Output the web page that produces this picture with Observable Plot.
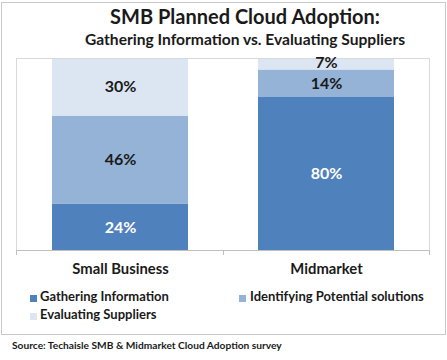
<!DOCTYPE html>
<html>
<head>
<meta charset="utf-8">
<script src="https://cdn.jsdelivr.net/npm/d3@7"></script>
<script src="https://cdn.jsdelivr.net/npm/@observablehq/plot@0.6"></script>
<style>
  html, body { margin: 0; padding: 0; background: #fff; }
  #wrap { position: relative; width: 447px; height: 360px; overflow: hidden; background: #fff; font-family: Lato, "Open Sans", sans-serif; }
  #wrap .t { position: absolute; white-space: nowrap; font-weight: bold; line-height: 1.2; color: #1a1a1a; }
  #border { position: absolute; left: 1px; top: 2px; width: 443px; height: 331px; border: 1px solid #c9c9c9; }
  #chart { position: absolute; left: 0; top: 0; }
  .sw { position: absolute; width: 7px; height: 7px; }
</style>
</head>
<body>
<div id="wrap">
  <div id="border"></div>
  <div id="chart"></div>
</div>
<script>
// ---- data ----
const categories = ["Small Business", "Midmarket"];
const series = ["Gathering Information", "Identifying Potential solutions", "Evaluating Suppliers"];
const gathering = [24, 80];
const identifying = [46, 14];
const evaluating = [30, 7];
const titleText = "SMB Planned Cloud Adoption:";
const subtitleText = "Gathering Information vs. Evaluating Suppliers";
const sourceText = "Source: Techaisle SMB & Midmarket Cloud Adoption survey";

// ---- styling ----
const colors = ["#4f81bd", "#95b3d7", "#dce6f2"];
const colorOf = Object.fromEntries(series.map((s, i) => [s, colors[i]]));

const seriesValues = [gathering, identifying, evaluating];
const rows = [];
categories.forEach((c, ci) => {
  series.forEach((s, si) => rows.push({category: c, series: s, value: seriesValues[si][ci]}));
});

function boundaryTicks(index, scales, values, dims) {
  const g = d3.create("svg:g").attr("stroke", "#bfbfbf");
  const left = dims.marginLeft, right = dims.width - dims.marginRight;
  const y0 = dims.height - dims.marginBottom;
  const step = (right - left) / categories.length;
  for (let i = 0; i <= categories.length; i++) {
    const x = Math.round(left + i * step) + 0.5;
    g.append("line").attr("x1", x).attr("x2", x).attr("y1", y0).attr("y2", y0 + 5);
  }
  return g.node();
}

const chart = Plot.plot({
  width: 447,
  height: 280,
  marginLeft: 16,
  marginRight: 18,
  marginTop: 58,
  marginBottom: 30,
  style: {fontFamily: "Lato, 'Open Sans', sans-serif", background: "transparent", overflow: "visible"},
  x: {domain: categories, paddingInner: 0.34, paddingOuter: 0.17, axis: null},
  y: {domain: [0, 100], axis: null},
  color: {type: "identity"},
  marks: [
    Plot.barY(rows, Plot.stackY({
      x: "category", y: "value", z: "series",
      fill: d => colorOf[d.series], clip: true
    })),
    Plot.frame({stroke: "#d9d9d9"}),
    Plot.ruleY([0], {stroke: "#bfbfbf"}),
    boundaryTicks,
    Plot.text(rows, Plot.stackY({
      x: "category", y: "value", z: "series",
      text: d => d.value + "%",
      fill: d => d.series === series[0] ? "#ffffff" : "#1a1a1a",
      fontSize: 16, fontWeight: "bold"
    })),
    Plot.axisX({tickSize: 0, tickPadding: 13, fontSize: 14.8, fontWeight: "bold", label: null, fill: "#1a1a1a"})
  ]
});
document.getElementById("chart").appendChild(chart);

// ---- html text ----
const wrap = document.getElementById("wrap");
function addText(txt, left, baseline, fs, opts = {}) {
  const d = document.createElement("div");
  d.className = "t";
  d.textContent = txt;
  d.style.fontSize = fs + "px";
  d.style.top = (baseline - 0.987 * fs) + "px";
  if (opts.center != null) {
    d.style.left = (opts.center - 300) + "px";
    d.style.width = "600px";
    d.style.textAlign = "center";
  } else {
    d.style.left = left + "px";
  }
  wrap.appendChild(d);
  return d;
}
addText(titleText, 0, 24, 20, {center: 245});
addText(subtitleText, 0, 45, 15.6, {center: 245});

// legend
const legPos = [
  {sx: 30, sy: 295, tx: 40, base: 302},
  {sx: 239, sy: 295, tx: 250, base: 302},
  {sx: 30, sy: 313, tx: 40, base: 319.5}
];
series.forEach((s, i) => {
  const p = legPos[i];
  const sw = document.createElement("div");
  sw.className = "sw";
  sw.style.left = p.sx + "px";
  sw.style.top = p.sy + "px";
  sw.style.background = colors[i];
  wrap.appendChild(sw);
  addText(s, p.tx, p.base, 13);
});

addText(sourceText, 12, 349, 10.2);
</script>
</body>
</html>
